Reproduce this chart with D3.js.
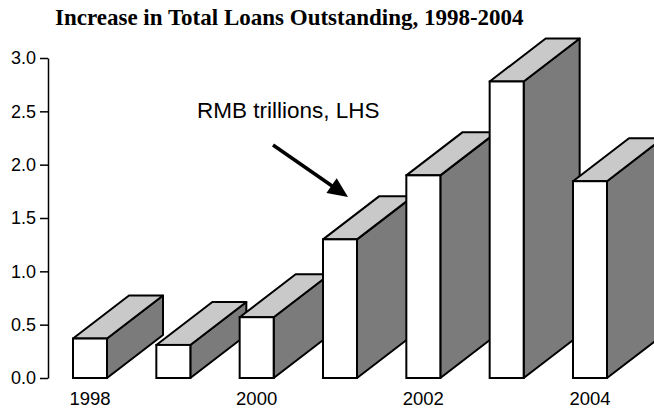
<!DOCTYPE html>
<html>
<head>
<meta charset="utf-8">
<script src="https://cdn.jsdelivr.net/npm/d3@7"></script>
<style>
  html, body { margin: 0; padding: 0; background: #fff; }
  svg { display: block; }
</style>
</head>
<body>
<script>
const years = ["1998", "1999", "2000", "2001", "2002", "2003", "2004"];
const loanIncrease = [0.37, 0.31, 0.57, 1.30, 1.90, 2.78, 1.845];
const xTickLabels = ["1998", "2000", "2002", "2004"];
const yTicks = [0, 0.5, 1.0, 1.5, 2.0, 2.5, 3.0];
const titleText = "Increase in Total Loans Outstanding, 1998-2004";
const annotationText = "RMB trillions, LHS";

const W = 654, H = 408;
const svg = d3.select("body").append("svg").attr("width", W).attr("height", H);

const y = d3.scaleLinear().domain([0, 3]).range([378, 58]);
const x = d3.scaleBand().domain(years).range([73, 607]).paddingInner(0.592).paddingOuter(0);

const depthX = 56, depthY = 43;
const colFront = "#ffffff", colTop = "#c9c9c9", colSide = "#7b7b7b";

// Title
svg.append("text")
  .attr("x", 55).attr("y", 25)
  .attr("font-family", "'Liberation Serif', 'Times New Roman', serif")
  .attr("font-weight", "bold")
  .attr("font-size", 23)
  .attr("fill", "#000")
  .text(titleText);

// Y axis
const yAxis = d3.axisLeft(y).tickValues(yTicks).tickFormat(d3.format(".1f"))
  .tickSize(8).tickSizeOuter(0).tickPadding(4);
const gy = svg.append("g").attr("transform", "translate(48,0)").call(yAxis);
gy.select(".domain").attr("stroke", "#000").attr("stroke-width", 1.5);
gy.selectAll(".tick line").attr("stroke", "#000").attr("stroke-width", 1.5);
gy.selectAll(".tick text")
  .attr("font-family", "'Liberation Sans', Arial, Helvetica, sans-serif")
  .attr("font-size", 18).attr("fill", "#000");

// Bars (3D)
const bars = svg.append("g").selectAll("g.bar")
  .data(years.map((yr, i) => ({ yr, v: loanIncrease[i] })))
  .join("g").attr("class", "bar");

bars.each(function(d) {
  const g = d3.select(this);
  const x0 = x(d.yr), x1 = x(d.yr) + x.bandwidth();
  const yt = y(d.v), yb = y(0);
  const side = [[x1, yt], [x1 + depthX, yt - depthY], [x1 + depthX, yb - depthY], [x1, yb]];
  const top = [[x0, yt], [x0 + depthX, yt - depthY], [x1 + depthX, yt - depthY], [x1, yt]];
  const line = d3.line();
  g.append("path").attr("d", line(side) + "Z")
    .attr("fill", colSide).attr("stroke", "#000").attr("stroke-width", 2).attr("stroke-linejoin", "round");
  g.append("path").attr("d", line(top) + "Z")
    .attr("fill", colTop).attr("stroke", "#000").attr("stroke-width", 2).attr("stroke-linejoin", "round");
  g.append("rect").attr("x", x0).attr("y", yt).attr("width", x1 - x0).attr("height", yb - yt)
    .attr("fill", colFront).attr("stroke", "#000").attr("stroke-width", 2);
});

// X labels
svg.append("g").selectAll("text")
  .data(xTickLabels)
  .join("text")
  .attr("x", d => x(d) + x.bandwidth() / 2)
  .attr("y", 405)
  .attr("text-anchor", "middle")
  .attr("font-family", "'Liberation Sans', Arial, Helvetica, sans-serif")
  .attr("font-size", 18.5)
  .attr("fill", "#000")
  .text(d => d);

// Annotation
svg.append("text")
  .attr("x", 197).attr("y", 118)
  .attr("font-family", "'Liberation Sans', Arial, Helvetica, sans-serif")
  .attr("font-size", 22.5)
  .attr("fill", "#000")
  .text(annotationText);

// Arrow
const a0 = [273, 145], a1 = [348, 197];
const dx = a1[0] - a0[0], dy = a1[1] - a0[1];
const len = Math.hypot(dx, dy), ux = dx / len, uy = dy / len;
const headL = 20, headW = 9;
const base = [a1[0] - ux * headL, a1[1] - uy * headL];
svg.append("line")
  .attr("x1", a0[0]).attr("y1", a0[1]).attr("x2", base[0] + ux * 2).attr("y2", base[1] + uy * 2)
  .attr("stroke", "#000").attr("stroke-width", 3.5);
svg.append("path")
  .attr("d", d3.line()([a1, [base[0] - uy * headW, base[1] + ux * headW], [base[0] + uy * headW, base[1] - ux * headW]]) + "Z")
  .attr("fill", "#000");
</script>
</body>
</html>
